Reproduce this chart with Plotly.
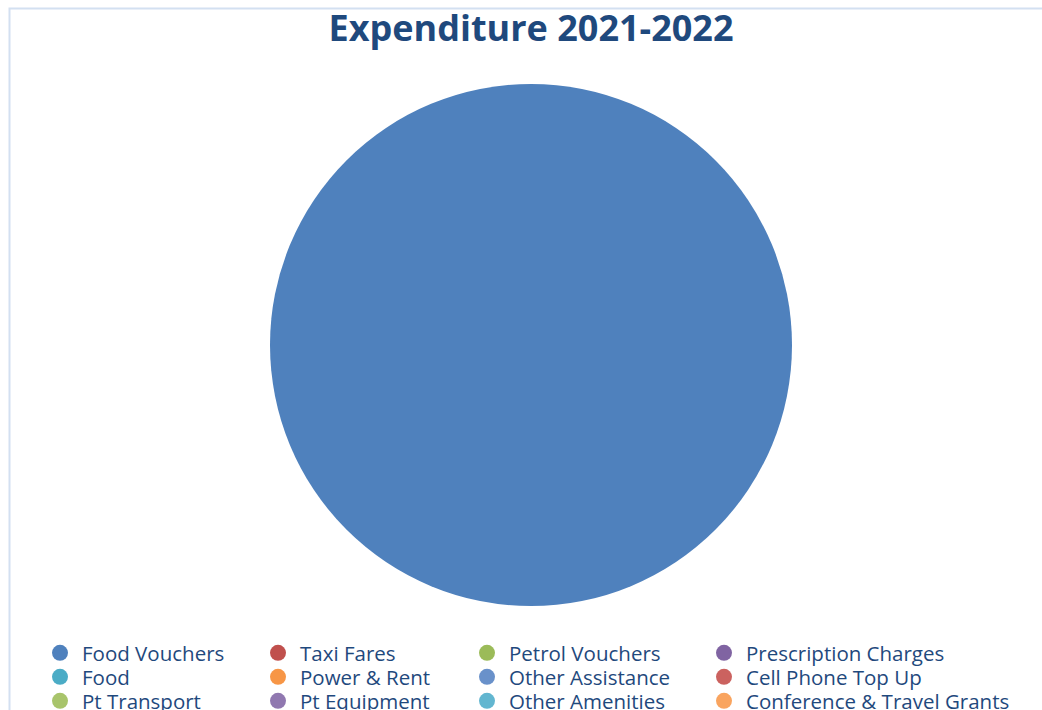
import plotly.graph_objects as go

title_text = "Expenditure 2021-2022"
categories = ["Food Vouchers", "Taxi Fares", "Petrol Vouchers", "Prescription Charges",
              "Food", "Power & Rent", "Other Assistance", "Cell Phone Top Up",
              "Pt Transport", "Pt Equipment", "Other Amenities", "Conference & Travel Grants"]
values = [100, 0, 0, 0, 0, 0, 0, 0, 0, 0, 0, 0]
colors = ["#4F81BD", "#C0504D", "#9BBB59", "#8064A2",
          "#4BACC6", "#F79646", "#6991CA", "#CB625F",
          "#A8C46B", "#9078B0", "#62B6D0", "#F9A45F"]

W, H = 1042, 710
fig = go.Figure()
fig.add_trace(go.Pie(
    labels=categories, values=values, sort=False, direction="clockwise",
    marker=dict(colors=colors, line=dict(width=0)),
    textinfo="none", hoverinfo="label+value+percent", showlegend=False,
    domain=dict(x=[270 / W, 792 / W], y=[(H - 606) / H, (H - 84) / H]),
))

# legend layout: 4 columns x 3 rows, one legend per entry
col_marker_x = [60, 278, 487, 724]
row_center_y = [653, 677, 701]
leg_font = dict(family="Open Sans", size=20.5, color="#1F497D")
layout_legends = {}
for i, (lab, col) in enumerate(zip(categories, colors)):
    name = "legend" if i == 0 else "legend%d" % (i + 1)
    fig.add_trace(go.Scatter(
        x=[None], y=[None], mode="markers", name=lab,
        marker=dict(size=16, color=col, symbol="circle"),
        legend=name, showlegend=True, hoverinfo="skip",
    ))
    r, c = divmod(i, 4)
    layout_legends[name] = dict(
        orientation="v", xanchor="left", yanchor="middle",
        x=(col_marker_x[c] - 22) / W, y=1 - row_center_y[r] / H,
        font=leg_font, bgcolor="rgba(0,0,0,0)", itemwidth=34,
        tracegroupgap=0, itemsizing="trace",
    )

fig.update_layout(
    width=W, height=H,
    margin=dict(l=0, r=0, t=0, b=0, autoexpand=False),
    paper_bgcolor="white", plot_bgcolor="white",
    xaxis=dict(visible=False), yaxis=dict(visible=False),
    title=dict(text="<b>" + title_text + "</b>", x=531 / W, xanchor="center",
               y=1 - 28 / H, yanchor="middle",
               font=dict(family="Open Sans", size=36, color="#1F497D")),
    shapes=[dict(type="rect", xref="paper", yref="paper",
                 x0=9.5 / W, x1=1.2, y0=-0.2, y1=1 - 8.5 / H,
                 line=dict(color="#D3E0F1", width=2), layer="below")],
    **layout_legends,
)

fig.write_html("out.html", config={"displayModeBar": False},
               post_script="document.body.style.margin='0';document.body.style.overflow='hidden';")
